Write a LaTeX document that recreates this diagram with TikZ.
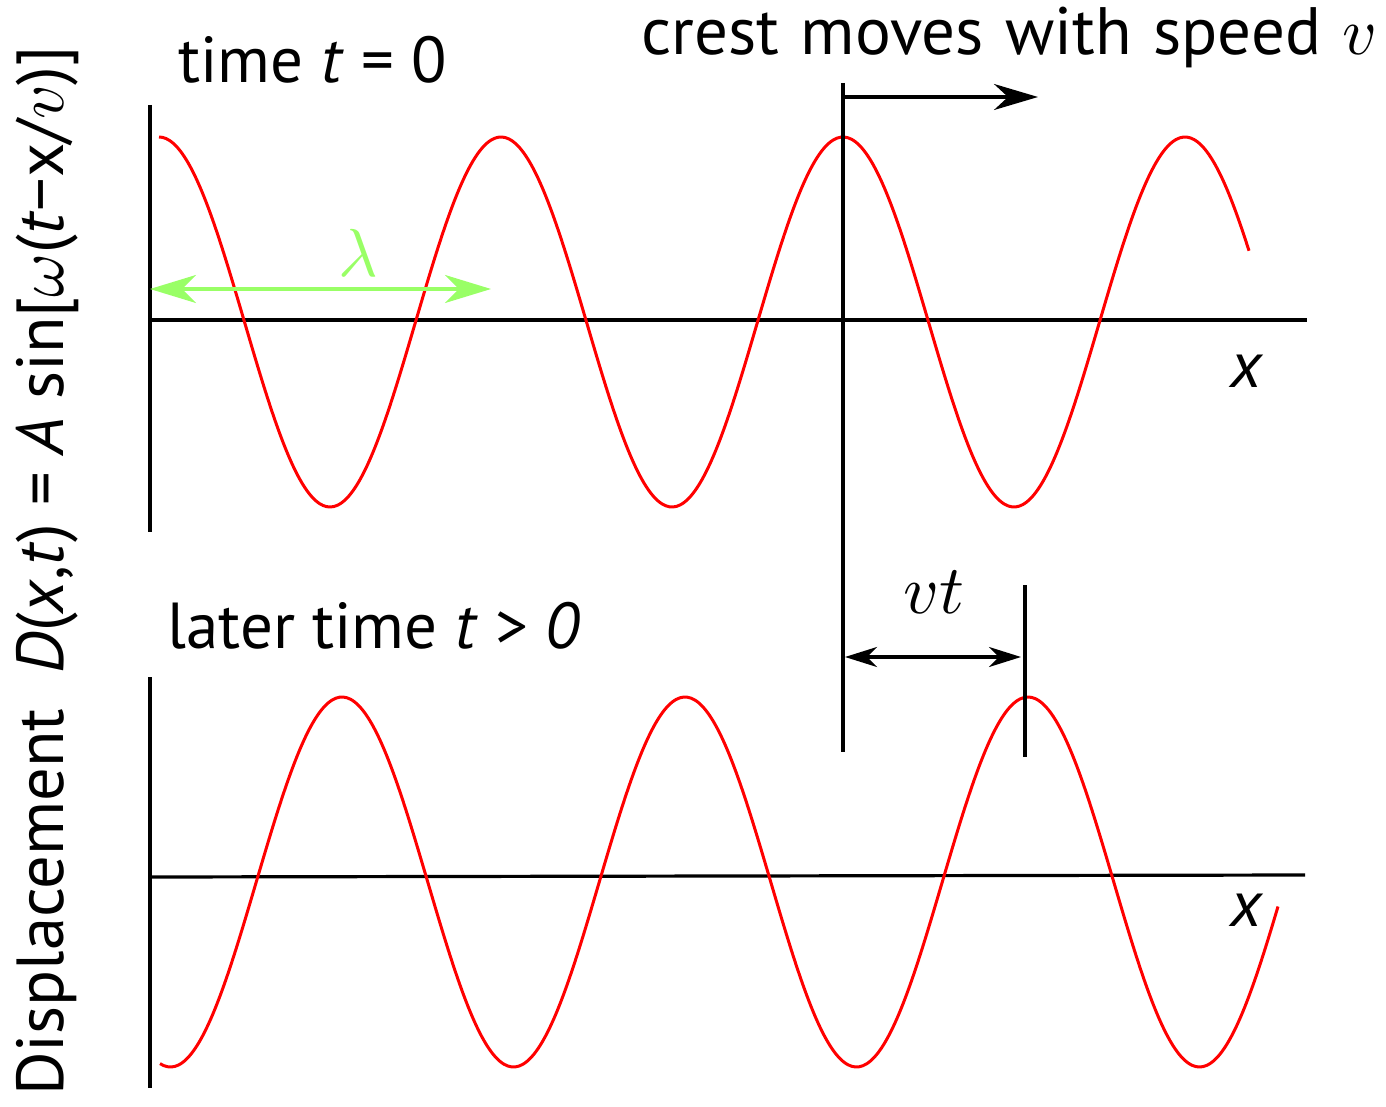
\documentclass[tikz,border=0pt]{standalone}
\usepackage{fontspec}
\setmainfont{PT Sans}
\DeclareFontShape{OML}{cmm}{m}{it}{<->cmmi10}{}
\usetikzlibrary{arrows.meta}
\definecolor{wavered}{RGB}{255,0,0}
\definecolor{lamgreen}{RGB}{153,255,102}
\begin{document}
\begin{tikzpicture}[x=0.5pt,y=-0.5pt,
  axis/.style={line width=1.6pt,black},
  wave/.style={line width=1.5pt,wavered,line join=round},
  lbl/.style={inner sep=0pt,font=\fontsize{32.5}{39}\selectfont},
  bigarrow/.style={line width=1.6pt,-{Stealth[length=22pt,width=13pt,inset=7pt]}},
  dimarrow/.style={line width=1.6pt,{Stealth[length=16pt,width=10pt,inset=5pt]}-{Stealth[length=16pt,width=10pt,inset=5pt]}},
  greenarrow/.style={line width=1.6pt,lamgreen,{Stealth[length=23pt,width=14pt,inset=7pt]}-{Stealth[length=23pt,width=14pt,inset=7pt]}}]
\useasboundingbox (0,0) rectangle (1386,1107);

% axes
\coordinate (tl1) at (150,105);
\coordinate (tl2) at (150,532);
\coordinate (th1) at (150,320);
\coordinate (th2) at (1307,320);
\coordinate (bl1) at (150,677);
\coordinate (bl2) at (150,1088);
\coordinate (bh1) at (150,877);
\coordinate (bh2) at (1305,875);
\draw[axis] (tl1) -- (tl2);
\draw[axis] (th1) -- (th2);
\draw[axis] (bl1) -- (bl2);
\draw[axis] (bh1) -- (bh2);

% waves
\draw[wave] plot[domain=159:1249,samples=300,smooth] (\x,{322-185*cos(1.05263*(\x-159))});
\draw[wave] plot[domain=160:1278,samples=300,smooth] (\x,{882-185*cos(1.04956*(\x-342))});

% crest markers
\coordinate (c1a) at (843,83);
\coordinate (c1b) at (843,752);
\coordinate (c2a) at (1025,585);
\coordinate (c2b) at (1025,757);
\draw[axis] (c1a) -- (c1b);
\draw[axis] (c2a) -- (c2b);

\coordinate (arS) at (843,97);
\coordinate (arE) at (1038,97);
\draw[bigarrow] (arS) -- (arE);

\coordinate (vtS) at (845,657);
\coordinate (vtE) at (1021,657);
\draw[dimarrow] (vtS) -- (vtE);

\coordinate (lamS) at (150,289);
\coordinate (lamE) at (491,289);
\draw[greenarrow] (lamS) -- (lamE);

% labels
\node[lbl,anchor=base west] (t0) at (178,83) {time \textit{t} = 0};
\node[lbl,anchor=base west] (t1) at (167,648) {later time \textit{t} > \textit{0}};
\node[lbl,anchor=base east] (crest) at (1378,55) {\fontsize{33.5}{40}\selectfont crest\hspace{0.32em}moves\hspace{0.32em}with\hspace{0.32em}speed\hspace{0.32em}$v$};
\node[lbl,anchor=base] (vt) at (934,613) {\fontsize{34.5}{40}\selectfont$vt$};
\node[lbl,anchor=base,text=lamgreen] (lam) at (358,277) {\fontsize{34}{40}\selectfont$\lambda$};
\node[lbl,anchor=base] (x1) at (1247,387) {\textit{x}};
\node[lbl,anchor=base] (x2) at (1247,926) {\textit{x}};
\node[lbl,rotate=90] (ylab) at (47,571) {\fontsize{33.3}{40}\selectfont Displacement\ \ \textit{D}(\textit{x},\textit{t}) = \textit{A} sin[$\omega$(\textit{t}−x/$v$)]};
\end{tikzpicture}
\end{document}
